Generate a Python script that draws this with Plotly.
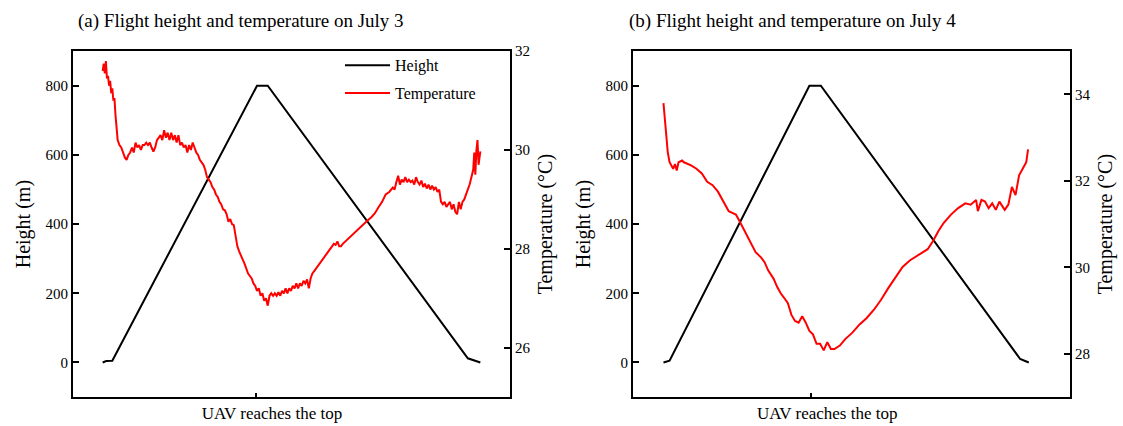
import plotly.graph_objects as go

# ---------------- data ----------------
panel_titles = ["(a) Flight height and temperature on July 3",
                "(b) Flight height and temperature on July 4"]
x_tick_label = "UAV reaches the top"

# Panel (a): July 3
a_top_time = 429
a_height_t = [0, 10, 27, 432, 462, 1022, 1057]
a_height_m = [0, 4, 5, 800, 800, 12, 0]
a_temp_t = [0, 3, 6, 9, 12, 15, 18, 21, 24, 27, 30, 33, 36, 39, 42, 47, 52, 57, 62, 67,
            72, 77, 82, 87, 92, 97, 102, 107, 112, 117, 122, 127, 132, 137, 142, 147, 152, 157, 162, 167,
            172, 177, 182, 187, 192, 197, 202, 207, 212, 217, 222, 227, 232, 237, 242, 247, 252, 257, 262, 267,
            272, 277, 282, 287, 292, 297, 302, 307, 312, 317, 322, 327, 332, 337, 342, 347, 352, 357, 362, 367,
            372, 377, 382, 387, 392, 397, 402, 407, 412, 417, 422, 427, 432, 437, 442, 447, 452, 457, 462, 467,
            472, 477, 482, 487, 492, 497, 502, 507, 512, 517, 522, 527, 532, 537, 542, 547, 552, 557, 562, 567,
            572, 577, 582, 587, 592, 597, 602, 607, 612, 617, 622, 627, 632, 637, 642, 647, 652, 657, 662, 667,
            672, 682, 692, 702, 712, 722, 732, 742, 752, 762, 772, 782, 792, 802, 812, 817, 822, 827, 832, 837,
            842, 847, 852, 857, 862, 867, 872, 877, 882, 887, 892, 897, 902, 907, 912, 917, 922, 927, 932, 937,
            942, 947, 952, 957, 962, 967, 972, 977, 982, 987, 992, 997, 1002, 1007, 1012, 1017, 1022, 1027, 1032, 1037,
            1040, 1043, 1046, 1049, 1052, 1055, 1057]
a_temp_c = [31.60, 31.75, 31.55, 31.80, 31.45, 31.50, 31.30, 31.40, 31.15, 31.25, 31.00, 31.05, 30.70, 30.40, 30.20, 30.10, 30.05, 29.95, 29.85, 29.80,
            29.90, 29.95, 30.05, 29.95, 30.15, 30.05, 30.10, 30.00, 30.10, 30.10, 30.15, 30.10, 30.15, 30.05, 29.97, 30.05, 30.20, 30.25, 30.30, 30.20,
            30.40, 30.25, 30.35, 30.20, 30.35, 30.20, 30.30, 30.15, 30.30, 30.10, 30.15, 30.05, 30.10, 29.95, 30.10, 30.00, 30.15, 30.05, 29.95, 29.90,
            29.80, 29.75, 29.70, 29.60, 29.45, 29.40, 29.35, 29.25, 29.20, 29.10, 29.05, 28.95, 28.90, 28.80, 28.78, 28.70, 28.55, 28.60, 28.50, 28.48,
            28.30, 28.05, 27.95, 27.85, 27.78, 27.70, 27.60, 27.50, 27.45, 27.40, 27.30, 27.25, 27.15, 27.20, 27.05, 27.10, 26.95, 27.00, 26.85, 27.05,
            27.10, 27.05, 27.10, 27.05, 27.12, 27.05, 27.15, 27.10, 27.20, 27.10, 27.20, 27.15, 27.25, 27.20, 27.30, 27.20, 27.30, 27.25, 27.35, 27.30,
            27.38, 27.20, 27.40, 27.50, 27.55, 27.60, 27.65, 27.70, 27.75, 27.80, 27.85, 27.90, 27.95, 28.00, 28.05, 28.10, 28.08, 28.15, 28.05, 28.05,
            28.10, 28.17, 28.25, 28.30, 28.38, 28.45, 28.51, 28.58, 28.64, 28.72, 28.84, 28.95, 29.10, 29.15, 29.24, 29.20, 29.35, 29.48, 29.30, 29.40,
            29.35, 29.45, 29.35, 29.40, 29.35, 29.38, 29.30, 29.45, 29.35, 29.30, 29.38, 29.25, 29.32, 29.22, 29.30, 29.20, 29.28, 29.20, 29.25, 29.15,
            29.20, 28.95, 28.90, 28.95, 28.85, 28.90, 28.95, 28.80, 28.90, 28.75, 28.70, 28.95, 28.80, 28.95, 29.00, 29.10, 29.20, 29.30, 29.45, 29.60,
            29.95, 29.50, 30.00, 30.20, 29.70, 29.95, 29.97]

# Panel (b): July 4
b_top_time = 412
b_height_t = [0, 8, 17, 407, 439, 995, 1019]
b_height_m = [0, 3, 5, 800, 800, 10, 0]
b_temp_t = [0, 4, 8, 12, 17, 22, 27, 32, 37, 42, 52, 57, 67, 77, 92, 107, 122, 137, 152, 167,
            182, 192, 202, 212, 227, 242, 257, 272, 282, 292, 307, 317, 327, 337, 347, 357, 367, 377, 387, 397,
            407, 417, 427, 437, 447, 457, 467, 477, 492, 507, 527, 547, 567, 587, 607, 627, 647, 667, 687, 707,
            722, 737, 752, 767, 782, 802, 822, 842, 857, 872, 877, 887, 897, 907, 917, 927, 937, 952, 962, 972,
            982, 992, 1002, 1012, 1017]
b_temp_c = [33.80, 33.42, 32.96, 32.66, 32.43, 32.36, 32.28, 32.39, 32.24, 32.43, 32.47, 32.43, 32.39, 32.36, 32.28, 32.17, 31.98, 31.90, 31.75, 31.52,
            31.30, 31.26, 31.22, 31.07, 30.84, 30.61, 30.35, 30.23, 30.12, 29.93, 29.74, 29.55, 29.40, 29.29, 29.17, 28.90, 28.76, 28.72, 28.87, 28.72,
            28.53, 28.45, 28.23, 28.23, 28.08, 28.27, 28.11, 28.11, 28.19, 28.34, 28.49, 28.68, 28.83, 29.02, 29.25, 29.52, 29.78, 30.01, 30.16, 30.27,
            30.35, 30.42, 30.61, 30.84, 31.03, 31.22, 31.37, 31.48, 31.45, 31.56, 31.30, 31.56, 31.52, 31.37, 31.48, 31.33, 31.52, 31.33, 31.45, 31.86,
            31.67, 32.13, 32.28, 32.43, 32.73]

# ---------------- figure ----------------
FONT = "Liberation Serif, Times New Roman, serif"
fig = go.Figure()

fig.add_trace(go.Scatter(x=a_height_t, y=a_height_m, mode="lines", name="Height", legendgroup="h",
                         line=dict(color="black", width=2), xaxis="x", yaxis="y"))
fig.add_trace(go.Scatter(x=a_temp_t, y=a_temp_c, mode="lines", name="Temperature", legendgroup="t",
                         line=dict(color="#ff0000", width=2), xaxis="x", yaxis="y2"))
fig.add_trace(go.Scatter(x=b_height_t, y=b_height_m, mode="lines", name="Height", showlegend=False,
                         line=dict(color="black", width=2), xaxis="x2", yaxis="y3"))
fig.add_trace(go.Scatter(x=b_temp_t, y=b_temp_c, mode="lines", name="Temperature", showlegend=False,
                         line=dict(color="#ff0000", width=2), xaxis="x2", yaxis="y4"))

W, H = 1123, 426


def px_x(p):
    return p / W


def px_y(p):
    return 1 - p / H


ydom = [px_y(396.5), px_y(44)]
tfont = dict(family=FONT, size=15, color="black")
ttl_font = dict(family=FONT, size=20, color="black")
axis_common = dict(showgrid=False, zeroline=False, showline=True, linecolor="black", linewidth=2,
                   tickcolor="black", tickwidth=1.5, ticklen=6, ticks="inside", tickfont=tfont)
xfont = dict(family=FONT, size=17, color="black")
x_common = {**axis_common, "tickfont": xfont, "ticklen": 4, "ticklabelshift": 16}

fig.update_layout(
    width=W, height=H,
    margin=dict(l=0, r=0, t=0, b=0),
    paper_bgcolor="white", plot_bgcolor="white",
    font=dict(family=FONT, color="black"),
    xaxis=dict(domain=[px_x(73), px_x(510)], range=[-83, 1140], anchor="y", mirror=True,
               tickmode="array", tickvals=[a_top_time], ticktext=[x_tick_label], **x_common),
    yaxis=dict(domain=ydom, range=[-100, 900], anchor="x",
               tickvals=[0, 200, 400, 600, 800],
               title=dict(text="Height (m)", font=ttl_font, standoff=9),
               **axis_common),
    yaxis2=dict(range=[25, 32], overlaying="y", side="right", anchor="x",
                tickvals=[26, 28, 30, 32],
                title=dict(text="Temperature (°C)", font=ttl_font, standoff=9),
                **axis_common),
    xaxis2=dict(domain=[px_x(633), px_x(1070)], range=[-85, 1134], anchor="y3", mirror=True,
                tickmode="array", tickvals=[b_top_time], ticktext=[x_tick_label], **x_common),
    yaxis3=dict(domain=ydom, range=[-100, 900], anchor="x2",
                tickvals=[0, 200, 400, 600, 800],
                title=dict(text="Height (m)", font=ttl_font, standoff=9),
                **axis_common),
    yaxis4=dict(range=[27, 35], overlaying="y3", side="right", anchor="x2",
                tickvals=[28, 30, 32, 34],
                title=dict(text="Temperature (°C)", font=ttl_font, standoff=9),
                **axis_common),
    legend=dict(x=px_x(340), y=px_y(41), xanchor="left", yanchor="top",
                bgcolor="rgba(0,0,0,0)", font=dict(family=FONT, size=16, color="black"),
                tracegroupgap=4, itemwidth=45),
    showlegend=True,
    annotations=[
        dict(text=panel_titles[0], x=px_x(76), y=px_y(13.5), xref="paper", yref="paper",
             xanchor="left", yanchor="middle", showarrow=False,
             font=dict(family=FONT, size=19, color="black")),
        dict(text=panel_titles[1], x=px_x(627), y=px_y(13.5), xref="paper", yref="paper",
             xanchor="left", yanchor="middle", showarrow=False,
             font=dict(family=FONT, size=19, color="black")),
    ],
)

fig.write_html("out.html", config={"displayModeBar": False},
               post_script="document.body.style.margin='0';document.body.style.overflow='hidden';")
